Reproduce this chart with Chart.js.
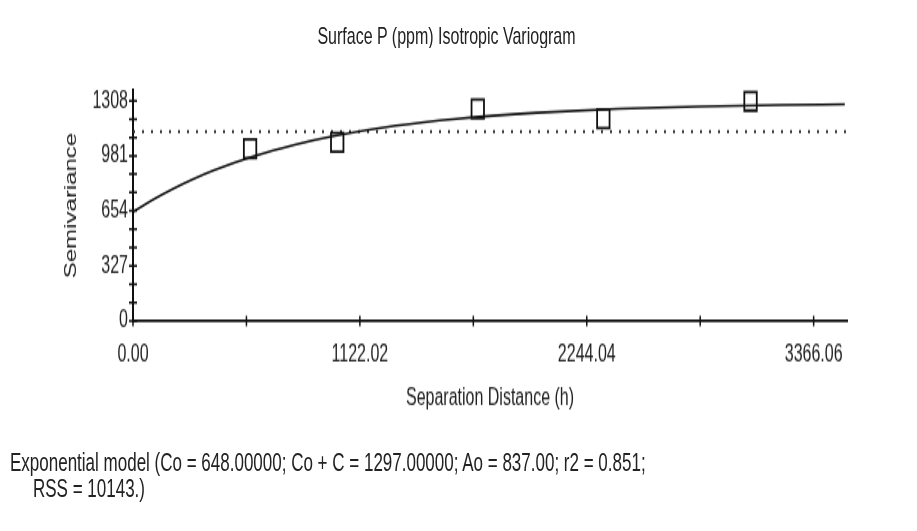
<!DOCTYPE html>
<html>
<head>
<meta charset="utf-8">
<script src="https://cdn.jsdelivr.net/npm/chart.js@4.4.0/dist/chart.umd.min.js"></script>
<style>
  html, body { margin: 0; padding: 0; background: #fff; }
  #pagina { position: relative; width: 917px; height: 531px; overflow: hidden; }
  /* the reference is stretched vertically, so the whole drawing is too */
  #wrap { position: absolute; left: 0; top: 0; width: 917px; height: 354px; transform: scaleY(1.5); transform-origin: 0 0;
          font-family: 'Liberation Sans', Arial, sans-serif; color: #222; }
  #titulo { position: absolute; left: 0; width: 893px; top: 14px; text-align: center; font-size: 16px; line-height: 20px; }
  #legenda { position: absolute; left: 10px; top: 300px; font-size: 17px; line-height: 17.3px; white-space: pre; }
  #legenda .l2 { padding-left: 23px; }
  canvas { position: absolute; left: 0; top: 0; }
</style>
</head>
<body>
<div id="pagina">
<div id="wrap">
  <div id="titulo">Surface P (ppm) Isotropic Variogram</div>
  <canvas id="variograma" width="917" height="354" style="width:917px;height:354px"></canvas>
  <div id="legenda"><div>Exponential model (Co = 648.00000; Co + C = 1297.00000; Ao = 837.00; r2 = 0.851;</div><div class="l2">RSS = 10143.)</div></div>
</div>
</div>
<script>
// pontos do variograma experimental
const lagDistance = [579, 1010, 1705, 2326, 3054];
const semivariance = [1023, 1061, 1260, 1201, 1305];

// curva do modelo
const modelDistance = [0, 100, 200, 300, 400, 600, 800, 1000, 1300, 1600, 2000, 2400, 2800, 3200, 3520];
const modelValue = [648, 721, 786, 844, 895, 980, 1047, 1100, 1160, 1201, 1237, 1260, 1274, 1283, 1287];

// linha pontilhada (variancia da amostra)
const sampleVariance = 1125;

const xTickLabels = ['0.00', '1122.02', '2244.04', '3366.06'];
const yTickLabels = ['0', '327', '654', '981', '1308'];
const xMax = 3531;
const yMax = 1372;

// ticks maiores + menores entre eles
function buildTicks(labels, parts) {
  const vals = labels.map(Number);
  const out = [];
  for (let i = 0; i < vals.length; i++) {
    out.push({ value: vals[i] });
    if (i < vals.length - 1) {
      for (let k = 1; k < parts; k++) out.push({ value: vals[i] + (vals[i + 1] - vals[i]) * k / parts });
    }
  }
  return out;
}
function labelFor(labels, value) {
  const hit = labels.find(l => Math.abs(Number(l) - value) < 0.001);
  return hit === undefined ? '' : hit;
}

// marcas cruzando os eixos
const marcasEixo = {
  id: 'marcasEixo',
  afterDatasetsDraw(chart) {
    const { ctx, chartArea, scales: { x, y } } = chart;
    ctx.save();
    ctx.strokeStyle = '#111';
    ctx.lineWidth = 1.5;
    ctx.beginPath();
    x.ticks.forEach(t => {
      const px = x.getPixelForValue(t.value);
      ctx.moveTo(px, chartArea.bottom - 3.5);
      ctx.lineTo(px, chartArea.bottom + 3.5);
    });
    y.ticks.forEach(t => {
      const py = y.getPixelForValue(t.value);
      ctx.moveTo(chartArea.left - 4, py);
      ctx.lineTo(chartArea.left + 4, py);
    });
    ctx.stroke();
    ctx.restore();
  }
};

const fonte = { family: "'Liberation Sans', Arial, sans-serif", size: 16 };

const ctx = document.getElementById('variograma').getContext('2d');
const chart = new Chart(ctx, {
  type: 'scatter',
  data: {
    datasets: [
      {
        label: 'Experimental',
        data: lagDistance.map((h, i) => ({ x: h, y: semivariance[i] })),
        pointStyle: 'rect',
        pointRadius: 8.8,
        pointBorderWidth: 1.8,
        borderColor: '#111',
        backgroundColor: 'rgba(0,0,0,0)',
        showLine: false
      },
      {
        label: 'Model',
        data: modelDistance.map((h, i) => ({ x: h, y: modelValue[i] })),
        showLine: true,
        pointRadius: 0,
        borderColor: '#111',
        borderWidth: 1.6,
        cubicInterpolationMode: 'monotone'
      },
      {
        label: 'Variance',
        data: [{ x: 0, y: sampleVariance }, { x: xMax, y: sampleVariance }],
        showLine: true,
        pointRadius: 0,
        borderColor: '#333',
        borderWidth: 2,
        borderDash: [2, 7]
      }
    ]
  },
  options: {
    responsive: false,
    animation: false,
    events: [],
    layout: { padding: { left: 62, right: 70, top: 60, bottom: 79 } },
    plugins: { legend: { display: false }, tooltip: { enabled: false } },
    scales: {
      x: {
        type: 'linear',
        min: 0,
        max: xMax,
        afterBuildTicks: s => { s.ticks = buildTicks(xTickLabels, 2); },
        afterFit: s => { s.height = 61; },
        grid: { display: false, drawTicks: false },
        border: { display: true, color: '#111', width: 1.7 },
        ticks: {
          autoSkip: false, maxRotation: 0, padding: 13, color: '#222', font: fonte,
          callback: v => labelFor(xTickLabels, v)
        },
        title: { display: true, text: 'Separation Distance (h)', color: '#222', font: fonte, padding: 0 }
      },
      y: {
        min: 0,
        max: yMax,
        afterBuildTicks: s => { s.ticks = buildTicks(yTickLabels, 3); },
        afterFit: s => { s.width = 71; },
        grid: { display: false, drawTicks: false },
        border: { display: true, color: '#111', width: 2 },
        ticks: {
          autoSkip: false, padding: 5, color: '#222', font: fonte,
          callback: v => labelFor(yTickLabels, v)
        },
        title: { display: true, text: 'Semivariance', color: '#222', font: fonte, padding: 0 }
      }
    }
  },
  plugins: [marcasEixo]
});
</script>
</body>
</html>
